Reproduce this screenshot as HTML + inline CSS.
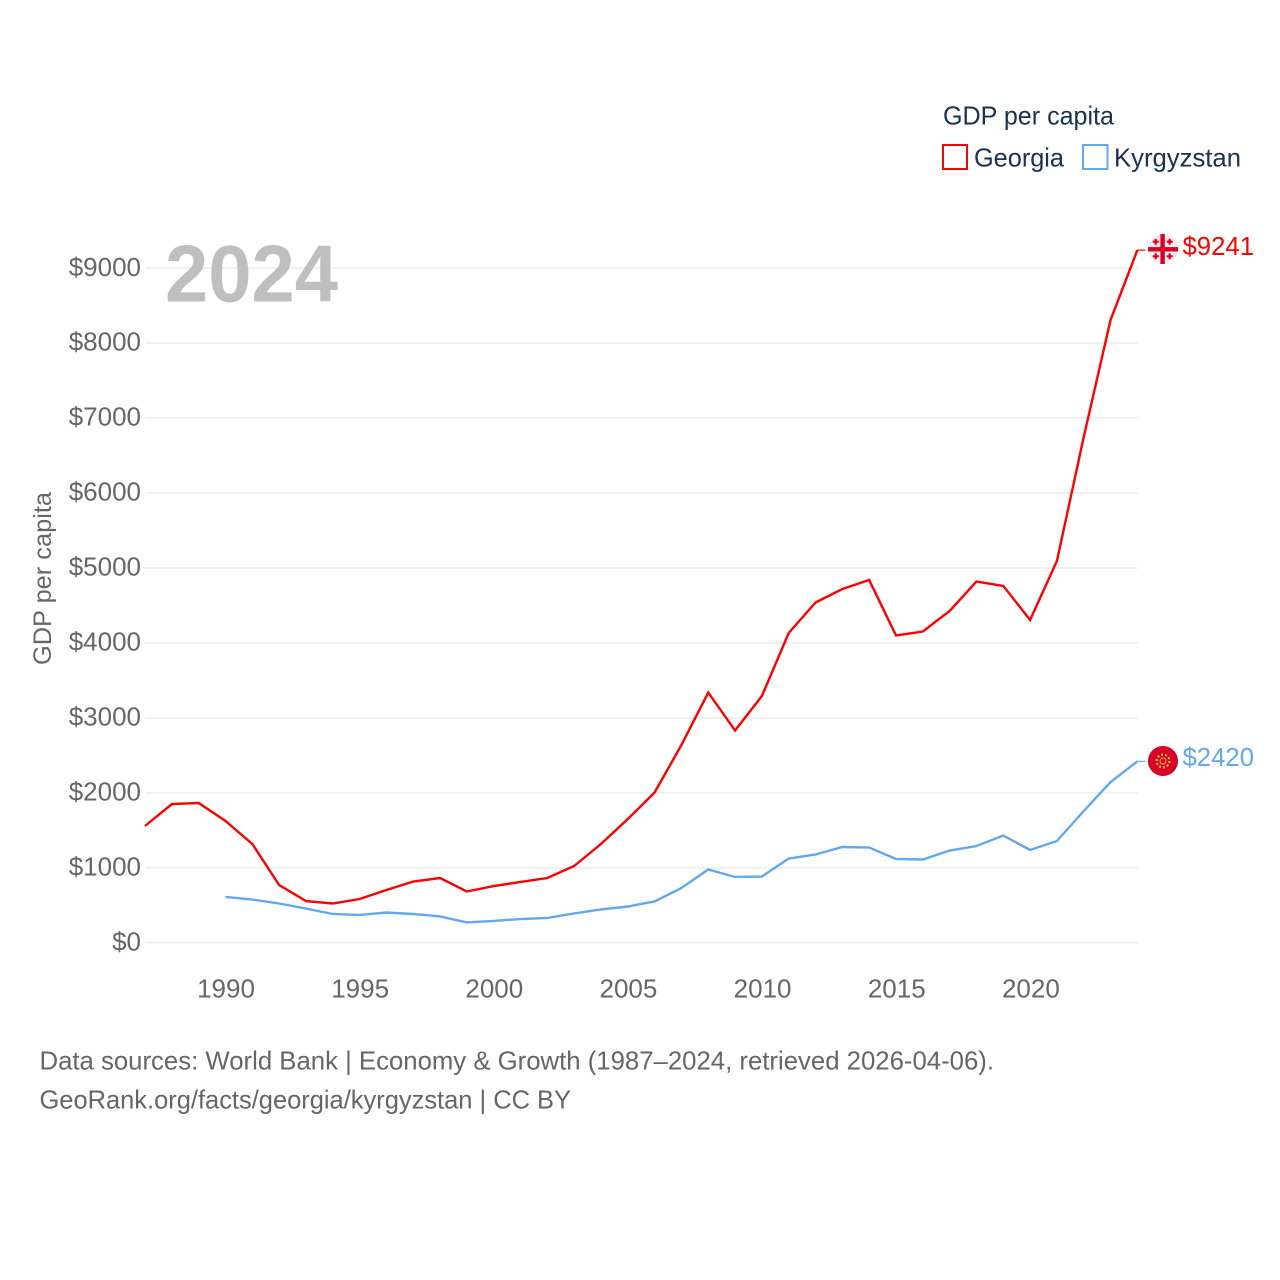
<!DOCTYPE html>
<html lang="en">
<head>
<meta charset="utf-8">
<title>GDP per capita: Georgia and Kyrgyzstan</title>
<style>
html,body{margin:0;padding:0;background:#fff;}
svg{display:block;font-family:"Liberation Sans",sans-serif;}
</style>
</head>
<body>
<svg id="chart" width="1280" height="1280" viewBox="0 0 1280 1280" xmlns="http://www.w3.org/2000/svg">
  <rect x="0" y="0" width="1280" height="1280" fill="#ffffff"/>
  <g id="grid"></g>
  <text x="165" y="301.5" font-size="81" font-weight="700" fill="#bcbcbc" textLength="173" lengthAdjust="spacingAndGlyphs" fill-opacity="0.95">2024</text>
  <g id="yticks"></g>
  <g id="xticks"></g>
  <g id="lines"></g>
  <text transform="translate(51,665) rotate(-90)" font-size="25" fill="#666666" textLength="173" lengthAdjust="spacingAndGlyphs">GDP per capita</text>

  <g>
    <text x="943" y="124.5" font-size="26" fill="#1a3150" textLength="171" lengthAdjust="spacingAndGlyphs">GDP per capita</text>
    <rect x="943" y="145" width="24" height="24" fill="none" stroke="#ff0000" stroke-width="2"/>
    <text x="974" y="166.5" font-size="26" fill="#1a3150" textLength="90" lengthAdjust="spacingAndGlyphs">Georgia</text>
    <rect x="1083" y="145" width="24.5" height="24" fill="none" stroke="#62a8ec" stroke-width="2"/>
    <text x="1114" y="166.5" font-size="26" fill="#1a3150" textLength="127" lengthAdjust="spacingAndGlyphs">Kyrgyzstan</text>
  </g>

  <g>
    <circle cx="1163" cy="249" r="15" fill="#eeeeee"/>
    <rect x="1160.4" y="234" width="4.4" height="30" fill="#d80027"/>
    <rect x="1148" y="247.1" width="30" height="4.4" fill="#d80027"/>
    <path fill="none" stroke="#d80027" stroke-width="2.2" d="M1152.7 241.7h6M1155.7 238.7v6M1166.7 241.7h6M1169.7 238.7v6M1152.7 256.3h6M1155.7 253.3v6M1166.7 256.3h6M1169.7 253.3v6"/>
  </g>
  <g>
    <circle cx="1163" cy="761" r="15" fill="#d80027"/>
    <circle cx="1163" cy="761" r="6.4" fill="none" stroke="#ffc233" stroke-width="2.2" stroke-dasharray="2 2"/>
    <circle cx="1163" cy="761" r="3" fill="#d80027" stroke="#ffc233" stroke-width="1"/>
  </g>

  <text x="1182.5" y="255" font-size="26" fill="#ff0000" textLength="71.5" lengthAdjust="spacingAndGlyphs">$9241</text>
  <text x="1182.5" y="766" font-size="26" fill="#62a8ec" textLength="71.5" lengthAdjust="spacingAndGlyphs">$2420</text>

  <text x="39.5" y="1069.5" font-size="26" fill="#666666" textLength="954.5" lengthAdjust="spacingAndGlyphs">Data sources: World Bank | Economy &amp; Growth (1987–2024, retrieved 2026-04-06).</text>
  <text x="39.5" y="1108.5" font-size="26" fill="#666666" textLength="531.5" lengthAdjust="spacingAndGlyphs">GeoRank.org/facts/georgia/kyrgyzstan | CC BY</text>
</svg>
<script>
const years = [1987,1988,1989,1990,1991,1992,1993,1994,1995,1996,1997,1998,1999,2000,2001,2002,2003,2004,2005,2006,2007,2008,2009,2010,2011,2012,2013,2014,2015,2016,2017,2018,2019,2020,2021,2022,2023,2024];
const georgiaValues = [1557,1850,1864,1624,1317,770,556,523,583,703,816,863,683,756,810,863,1023,1317,1650,2004,2638,3338,2831,3292,4132,4539,4719,4840,4099,4152,4426,4819,4760,4306,5093,6747,8309,9241];
const kyrgyzstanValues = [null,null,null,610,576,523,456,383,370,403,383,350,270,290,316,330,390,443,483,550,730,977,877,883,1123,1177,1277,1270,1117,1110,1230,1290,1430,1237,1357,1757,2144,2420];
const yTickValues = [0,1000,2000,3000,4000,5000,6000,7000,8000,9000];
const xTickValues = [1990,1995,2000,2005,2010,2015,2020];

const NS = 'http://www.w3.org/2000/svg';
function xScale(year) { return 225.5 + (year - 1990) * 26.82; }
function yScale(value) { return 942.7 - value * 0.07495; }
function xTickPosition(year) { return 226 + (year - 1990) * 26.83; }

const gridGroup = document.getElementById('grid');
const yTickGroup = document.getElementById('yticks');
const xTickGroup = document.getElementById('xticks');
const lineGroup = document.getElementById('lines');

yTickValues.forEach(function (v) {
  const line = document.createElementNS(NS, 'line');
  
  
  line.setAttribute('x1', 145);
  line.setAttribute('x2', 1137.5);
  line.setAttribute('y1', yScale(v));
  line.setAttribute('y2', yScale(v));
  line.setAttribute('stroke', '#eeeeee');
  line.setAttribute('stroke-width', 1.7);
  gridGroup.appendChild(line);

  const label = document.createElementNS(NS, 'text');
  
  
  label.setAttribute('x', 141);
  label.setAttribute('y', yScale(v) + 7.6);
  label.setAttribute('text-anchor', 'end');
  label.setAttribute('font-size', 26);
  label.setAttribute('fill', '#666666');
  label.textContent = '$' + v;
  yTickGroup.appendChild(label);
});

xTickValues.forEach(function (yr) {
  const label = document.createElementNS(NS, 'text');
  
  
  label.setAttribute('x', xTickPosition(yr));
  label.setAttribute('y', 997.5);
  label.setAttribute('text-anchor', 'middle');
  label.setAttribute('font-size', 26);
  label.setAttribute('fill', '#666666');
  label.textContent = String(yr);
  xTickGroup.appendChild(label);
});

function drawSeries(values, color, seriesName) {
  const pts = [];
  values.forEach(function (v, i) {
    if (v !== null) {
      pts.push(xScale(years[i]).toFixed(2) + ',' + yScale(v).toFixed(2));
    }
  });
  const path = document.createElementNS(NS, 'polyline');
  
  
  path.setAttribute('points', pts.join(' '));
  path.setAttribute('fill', 'none');
  path.setAttribute('stroke', color);
  path.setAttribute('stroke-width', 2.4);
  path.setAttribute('stroke-linejoin', 'miter');
  lineGroup.appendChild(path);

  const lastValue = values[values.length - 1];
  const lastYear = years[years.length - 1];
  const leader = document.createElementNS(NS, 'line');
  
  
  leader.setAttribute('x1', xScale(lastYear));
  leader.setAttribute('x2', xScale(lastYear) + 8);
  leader.setAttribute('y1', yScale(lastValue));
  leader.setAttribute('y2', yScale(lastValue));
  leader.setAttribute('stroke', color);
  leader.setAttribute('stroke-width', 1.2);
  lineGroup.appendChild(leader);
}

drawSeries(georgiaValues, '#ff0000', 'line-georgia');
drawSeries(kyrgyzstanValues, '#62a8ec', 'line-kyrgyzstan');
</script>
</body>
</html>
